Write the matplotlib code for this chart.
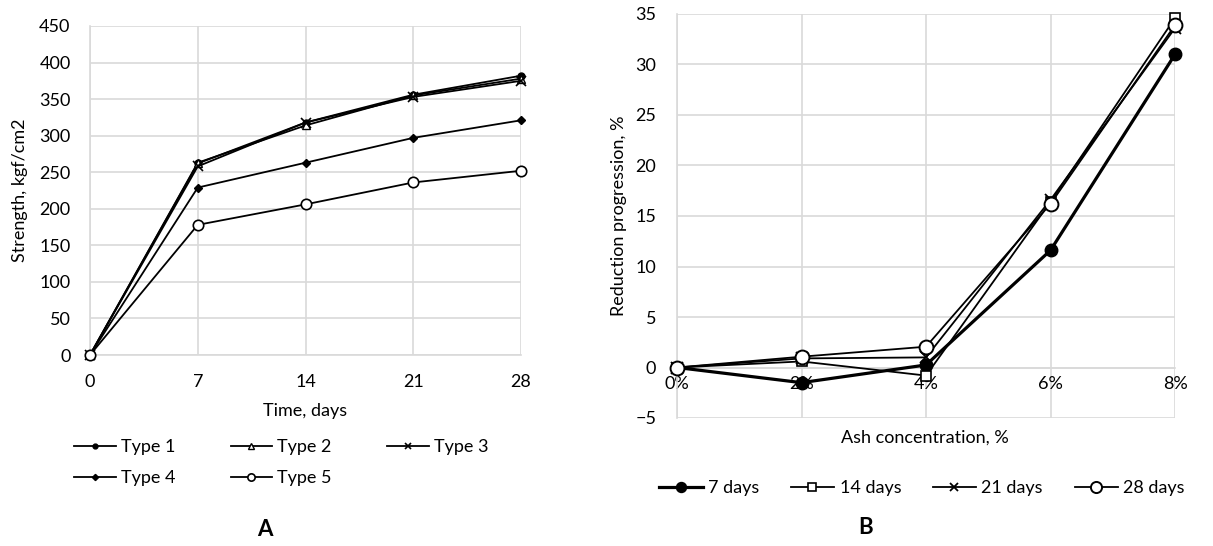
import matplotlib
matplotlib.use("Agg")
import matplotlib.pyplot as plt

plt.rcParams['font.family'] = ['Lato', 'DejaVu Sans']

# Panel A data
days = [0, 7, 14, 21, 28]
type1 = [0, 262, 318, 356, 382]
type2 = [0, 263, 314, 355, 378]
type3 = [0, 258, 318, 353, 375]
type4 = [0, 229, 263, 297, 321]
type5 = [0, 178, 206, 236, 252]
a_labels = ["Type 1", "Type 2", "Type 3", "Type 4", "Type 5"]

# Panel B data
conc = ["0%", "2%", "4%", "6%", "8%"]
d7 = [0, -1.5, 0.25, 11.6, 31.0]
d14 = [0, 0.6, -0.8, 16.4, 34.6]
d21 = [0, 0.9, 1.0, 16.6, 33.6]
d28 = [0, 1.07, 2.06, 16.2, 33.9]
b_labels = ["7 days", "14 days", "21 days", "28 days"]

W, H = 1213, 546
fig = plt.figure(figsize=(W / 100, H / 100), dpi=100)
grid_c = "#d9d9d9"
fs = 13

# ---------- Panel A ----------
axA = fig.add_axes([90 / W, 1 - 355 / H, 431 / W, 329 / H])
styles = [
    dict(marker="o", ms=5, mfc="black", mec="black"),
    dict(marker="^", ms=6, mfc="white", mec="black"),
    dict(marker="x", ms=7, mec="black", mew=1.2),
    dict(marker="D", ms=4.5, mfc="black", mec="black"),
    dict(marker="o", ms=7.5, mfc="white", mec="black", mew=1.2),
]
handles = []
for ser, lab, st in zip([type1, type2, type3, type4, type5], a_labels, styles):
    h, = axA.plot(days, ser, color="black", lw=1.3, label=lab, zorder=3,
                  clip_on=False, **st)
    handles.append(h)
axA.set_xlim(0, 28)
axA.set_ylim(0, 450)
axA.set_xticks(days)
axA.set_yticks(range(0, 451, 50))
axA.grid(True, color=grid_c, lw=1.2)
axA.set_axisbelow(True)
for s in ["top", "right"]:
    axA.spines[s].set_visible(False)
for s in ["left", "bottom"]:
    axA.spines[s].set_color(grid_c)
    axA.spines[s].set_linewidth(1.2)
axA.tick_params(length=0, labelsize=fs)
axA.tick_params(axis="x", pad=14)
axA.tick_params(axis="y", pad=14)
axA.set_xlabel("Time, days", fontsize=fs, labelpad=9)
axA.set_ylabel("Strength, kgf/cm2", fontsize=fs, labelpad=8)
order = [0, 3, 1, 4, 2]
axA.legend([handles[i] for i in order], [a_labels[i] for i in order],
           ncol=3, loc="upper left", bbox_to_anchor=(74 / W, 1 - 439 / H),
           bbox_transform=fig.transFigure,
           frameon=False, fontsize=fs, handlelength=2.3, markerscale=0.7,
           columnspacing=3.05, handletextpad=0.3, labelspacing=0.85,
           borderpad=0, borderaxespad=0)
fig.text(265 / W, 1 - 530 / H, "A", fontsize=16, fontweight="bold",
         ha="center", va="center")

# ---------- Panel B ----------
axB = fig.add_axes([677 / W, 1 - 418 / H, 498 / W, 404 / H])
xs = list(range(len(conc)))
bstyles = [
    dict(marker="o", ms=9, mfc="black", mec="black", lw=2.3),
    dict(marker="s", ms=6.5, mfc="white", mec="black", mew=1.2, lw=1.3),
    dict(marker="x", ms=8, mec="black", mew=1.3, lw=1.3),
    dict(marker="o", ms=10, mfc="white", mec="black", mew=1.4, lw=1.3),
]
for ser, lab, st in zip([d7, d14, d21, d28], b_labels, bstyles):
    axB.plot(xs, ser, color="black", label=lab, zorder=3, clip_on=False, **st)
axB.set_xlim(0, 4)
axB.set_ylim(-5, 35)
axB.set_xticks(xs)
axB.set_xticklabels(conc)
axB.set_yticks(range(-5, 36, 5))
axB.grid(True, color=grid_c, lw=1.2)
axB.set_axisbelow(True)
for s in ["top", "right"]:
    axB.spines[s].set_visible(False)
axB.spines["bottom"].set_position(("data", 0))
for s in ["left", "bottom"]:
    axB.spines[s].set_color(grid_c)
    axB.spines[s].set_linewidth(1.2)
axB.tick_params(length=0, labelsize=fs)
axB.tick_params(axis="x", pad=6)
axB.tick_params(axis="y", pad=15)
axB.set_ylabel("Reduction progression, %", fontsize=fs, labelpad=6)
fig.text(925 / W, 1 - 438 / H, "Ash concentration, %", fontsize=fs,
         ha="center", va="center")
axB.legend(loc="center", bbox_to_anchor=(922 / W, 1 - 488 / H),
           bbox_transform=fig.transFigure, ncol=4, frameon=False,
           fontsize=fs, handlelength=2.4, columnspacing=1.75,
           handletextpad=0.3, markerscale=0.8, borderpad=0)
fig.text(866 / W, 1 - 528 / H, "B", fontsize=16, fontweight="bold",
         ha="center", va="center")

fig.savefig("out.png", dpi=100)
